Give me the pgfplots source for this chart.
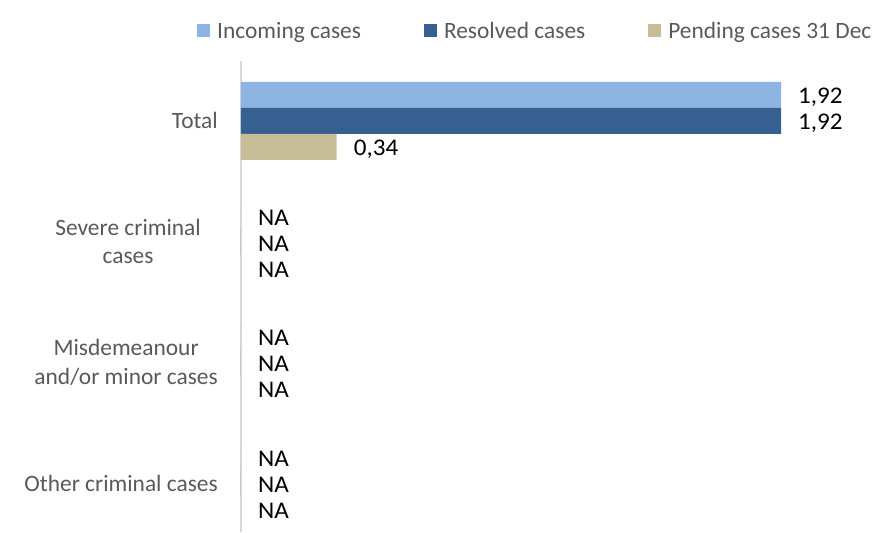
\documentclass[border=0pt]{standalone}
\usepackage{pgfplots}
\pgfplotsset{compat=1.18}
\usepackage{pgfplotstable}
\usepackage{fontspec}
\setmainfont{Carlito}
\newfontfamily\labfont[FakeStretch=1.05]{Carlito}
\definecolor{cIn}{HTML}{8EB4E3}
\definecolor{cRes}{HTML}{366092}
\definecolor{cPen}{HTML}{C4BD97}
\definecolor{txt}{HTML}{595959}
\definecolor{axl}{HTML}{D9D9D9}

\pgfplotstableread{
pos val lab
3 1.92 1,92
2 0 NA
1 0 NA
0 0 NA
}\incoming
\pgfplotstableread{
pos val lab
3 1.92 1,92
2 0 NA
1 0 NA
0 0 NA
}\resolved
\pgfplotstableread{
pos val lab
3 0.34 0,34
2 0 NA
1 0 NA
0 0 NA
}\pending

\begin{document}
\begin{tikzpicture}
\begin{axis}[
  scale only axis,
  width=648bp, height=471.4bp,
  xmin=0, xmax=2.304,
  ymin=-0.406, ymax=3.5,
  xbar, bar width=26bp,
  clip=false,
  axis x line=none,
  axis y line=left,
  y axis line style={draw=axl, line width=1.6bp, -},
  ytick={0,1,2,3},
  yticklabels={Other criminal cases, Misdemeanour\\and/or minor cases, Severe criminal\hspace*{17bp}\\cases\hspace*{17bp}, Total},
  major tick length=0,
  yticklabel style={anchor=east, inner sep=0, xshift=-23bp, align=center,
    font=\fontsize{23.5}{28.5}\selectfont, text=txt},
  point meta=explicit symbolic,
  nodes near coords,
  every node near coord/.append style={anchor=west, inner sep=0, xshift=17bp, yshift=-2bp,
    font=\labfont\fontsize{24}{26}\selectfont, text=black},
  legend columns=3,
  legend style={draw=none, fill=none, inner sep=0,
    at={(axis description cs:0,1)}, anchor=west, xshift=-44bp, yshift=29.6bp,
    font=\fontsize{23.5}{28.5}\selectfont, text=txt,
    /tikz/every even column/.append style={column sep=63bp},
    nodes={inner sep=0, outer sep=0},
  },
  legend image code/.code={\fill[#1] (0bp,-6.5bp) rectangle (13bp,6.5bp);},
  legend cell align=left,
]
\addplot[fill=cIn, draw=none, bar shift=26bp] table[x=val, y=pos, meta=lab] {\incoming};
\addplot[fill=cRes, draw=none, bar shift=0bp] table[x=val, y=pos, meta=lab] {\resolved};
\addplot[fill=cPen, draw=none, bar shift=-26bp] table[x=val, y=pos, meta=lab] {\pending};
\legend{\hspace{7bp}Incoming cases, \hspace{7bp}Resolved cases, \hspace{7bp}Pending cases 31 Dec}
\end{axis}
\path ([xshift=-241bp]current axis.south west) rectangle ([yshift=60.6bp]current axis.north east);
\end{tikzpicture}
\end{document}
